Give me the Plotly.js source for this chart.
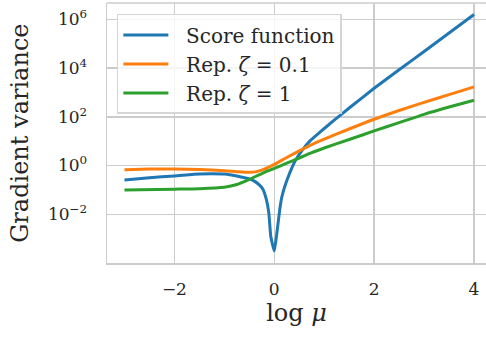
<!DOCTYPE html>
<html>
<head>
<meta charset="utf-8">
<script src="https://cdn.plot.ly/plotly-3.0.1.min.js"></script>
<style>html,body{margin:0;padding:0;background:#fff;overflow:hidden}#chart{width:486px;height:343px}</style>
</head>
<body>
<div id="chart"></div>
<script>
// log mu values and gradient variances
const xScore = [-3, -2.5, -2, -1.5, -1.25, -1, -0.75, -0.6, -0.5, -0.4, -0.3, -0.23, -0.16, -0.11, -0.07, 0, 0.05, 0.11, 0.15, 0.22, 0.31, 0.42, 0.55, 0.72, 0.92, 1.2, 1.5, 2, 2.5, 3, 3.5, 4];
const yScore = [0.257, 0.316, 0.372, 0.447, 0.457, 0.447, 0.372, 0.316, 0.282, 0.229, 0.162, 0.110, 0.0417, 0.0117, 0.00126, 0.000309, 0.00158, 0.0158, 0.0501, 0.158, 0.501, 1.58, 3.98, 10.5, 24.0, 72.4, 229, 1479, 8511, 47863, 275423, 1584893];

const xRep01 = [-3, -2.5, -2, -1.5, -1, -0.75, -0.5, -0.35, -0.2, 0, 0.25, 0.5, 0.75, 1, 1.5, 2, 2.5, 3, 3.5, 4];
const yRep01 = [0.676, 0.724, 0.724, 0.692, 0.617, 0.562, 0.525, 0.562, 0.708, 1.12, 2.14, 3.98, 7.24, 12.0, 31.6, 79.4, 182, 389, 813, 1698];

const xRep1 = [-3, -2, -1.5, -1, -0.75, -0.5, -0.25, 0, 0.25, 0.5, 0.75, 1, 1.5, 2, 2.5, 3, 3.5, 4];
const yRep1 = [0.100, 0.107, 0.112, 0.129, 0.166, 0.269, 0.468, 0.759, 1.26, 2.04, 3.39, 5.25, 11.7, 26.3, 57.5, 126, 251, 479];

const seriesNames = ["Score function", "Rep. <i>ζ</i> = 0.1", "Rep. <i>ζ</i> = 1"];
const xTitle = "log <i>μ</i>";
const yTitle = "Gradient variance";
const xTickVals = [-2, 0, 2, 4];
const xTickText = ["−2", "0", "2", "4"];
const yTickVals = [1e-2, 1, 1e2, 1e4, 1e6];
const yTickText = ["10<sup>−2</sup>", "10<sup>0</sup>", "10<sup>2</sup>", "10<sup>4</sup>", "10<sup>6</sup>"];

const FONT = "DejaVu Serif";
const TEXT = "#262626";
const colors = ["#1f77b4", "#ff7f0e", "#2ca02c"];
const PAD = "\u00A0\u00A0";

const traces = [
  {x: xScore, y: yScore, name: PAD + seriesNames[0], legendgroup: "a", mode: "lines", line: {color: colors[0], width: 3, shape: "spline", smoothing: 0.4}},
  {x: xRep01, y: yRep01, name: PAD + seriesNames[1], legendgroup: "b", mode: "lines", line: {color: colors[1], width: 3, shape: "spline", smoothing: 0.6}},
  {x: xRep1, y: yRep1, name: PAD + seriesNames[2], legendgroup: "c", mode: "lines", line: {color: colors[2], width: 3, shape: "spline", smoothing: 0.6}}
];

const layout = {
  width: 486, height: 343,
  margin: {l: 107, r: 0, t: 3, b: 80},
  paper_bgcolor: "#ffffff", plot_bgcolor: "#ffffff",
  font: {family: FONT, color: TEXT, size: 17},
  showlegend: true,
  legend: {
    x: 0.026, y: 0.958, xanchor: "left", yanchor: "top",
    bgcolor: "rgba(255,255,255,0.8)", bordercolor: "#d6d6d6", borderwidth: 1.5,
    font: {family: FONT, size: 20, color: TEXT},
    tracegroupgap: 0, itemwidth: 45
  },
  xaxis: {
    range: [-3.35, 4.24], tickvals: xTickVals, ticktext: xTickText,
    showgrid: true, gridcolor: "#cccccc", gridwidth: 1.5,
    showline: true, linecolor: "#cccccc", linewidth: 1.5, mirror: false,
    zeroline: false, ticks: "", ticklabelstandoff: 10,
    tickfont: {family: FONT, size: 17, color: TEXT},
    title: {text: xTitle, font: {family: FONT, size: 24, color: TEXT}, standoff: 6}
  },
  yaxis: {
    type: "log", range: [-4.0, 6.67], tickvals: yTickVals, ticktext: yTickText,
    showgrid: true, gridcolor: "#cccccc", gridwidth: 1.5,
    showline: true, linecolor: "#cccccc", linewidth: 1.5, mirror: false,
    zeroline: false, ticks: "", ticklabelstandoff: 15,
    tickfont: {family: FONT, size: 17, color: TEXT}
  },
  annotations: [
    {text: yTitle, xref: "paper", yref: "paper", x: -0.23, y: 0.5, xanchor: "center", yanchor: "middle",
     textangle: -90, showarrow: false, font: {family: FONT, size: 24, color: TEXT}}
  ],
  shapes: [
    {type: "line", xref: "paper", yref: "paper", x0: 0, x1: 1, y0: 1, y1: 1, line: {color: "#cccccc", width: 1.5}, layer: "below"}
  ]
};

Plotly.newPlot("chart", traces, layout, {displayModeBar: false, staticPlot: true});
</script>
</body>
</html>
